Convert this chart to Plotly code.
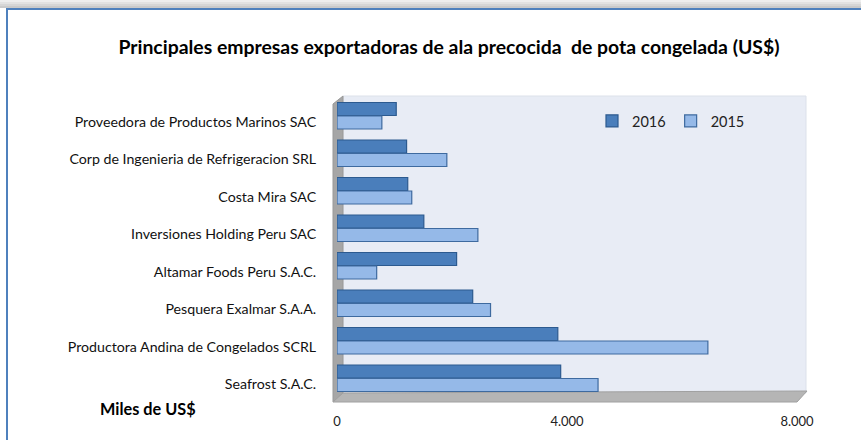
import plotly.graph_objects as go

# ---- data (thousands of US$) ----
empresas = [
    "Proveedora de Productos Marinos SAC",
    "Corp de Ingenieria de Refrigeracion SRL",
    "Costa Mira SAC",
    "Inversiones Holding Peru SAC",
    "Altamar Foods Peru S.A.C.",
    "Pesquera Exalmar S.A.A.",
    "Productora Andina de Congelados SCRL",
    "Seafrost S.A.C.",
]
valores_2016 = [1030, 1210, 1230, 1510, 2080, 2360, 3840, 3890]
valores_2015 = [780, 1910, 1300, 2450, 690, 2670, 6450, 4540]
x_ticks = [0, 4000, 8000]

W, H = 861, 440
L, R, T, B = 337, 797, 97, 397


def px(x):
    return (x - L) / (R - L)


def py(y):
    return 1 - (y - T) / (B - T)


FONT = "Lato, 'Open Sans', sans-serif"

fig = go.Figure()
fig.add_trace(go.Bar(
    name="2016", y=empresas, x=valores_2016, orientation="h",
    marker=dict(color="#4A7EBB", line=dict(color="#2C5A8F", width=1.2)),
))
fig.add_trace(go.Bar(
    name="2015", y=empresas, x=valores_2015, orientation="h",
    marker=dict(color="#95B9E8", line=dict(color="#3E6A9F", width=1.2)),
))

shapes = []
# top shadow
for i, c in enumerate(["#EEEEEE", "#E2E2E2", "#D6D6D6", "#CACACA"]):
    shapes.append(dict(type="rect", xref="paper", yref="paper",
                       x0=px(-5), x1=px(870), y0=py(2 * i), y1=py(2 * i + 2),
                       fillcolor=c, line=dict(width=0), layer="below"))
# outer frame
shapes.append(dict(type="rect", xref="paper", yref="paper",
                   x0=px(7), x1=px(875), y0=py(9), y1=py(460),
                   fillcolor="rgba(0,0,0,0)", line=dict(color="#4F81BD", width=2), layer="below"))
# back wall
shapes.append(dict(type="rect", xref="paper", yref="paper",
                   x0=px(343), x1=px(806), y0=py(96), y1=py(393),
                   fillcolor="#E8ECF5", line=dict(color="#DCE1EA", width=1), layer="below"))
# left wall
shapes.append(dict(type="path", xref="paper", yref="paper",
                   path=f"M {px(333)},{py(104)} L {px(343)},{py(96)} L {px(343)},{py(393)} L {px(333)},{py(402)} Z",
                   fillcolor="#A6A6A6", line=dict(color="#999999", width=1), layer="below"))
# floor
shapes.append(dict(type="path", xref="paper", yref="paper",
                   path=f"M {px(333)},{py(402)} L {px(343)},{py(393)} L {px(807)},{py(391)} L {px(797)},{py(402)} Z",
                   fillcolor="#B5B5B5", line=dict(color="#A0A0A0", width=1), layer="below"))

fig.update_layout(
    width=W, height=H,
    margin=dict(l=L, r=W - R, t=T, b=H - B, autoexpand=False),
    paper_bgcolor="white", plot_bgcolor="rgba(0,0,0,0)",
    separators=",.",
    barmode="group", bargap=0.28, bargroupgap=0.04,
    font=dict(family=FONT, color="#000000", size=13),
    title=dict(text="<b>Principales empresas exportadoras de ala precocida\u00a0 de pota congelada (US$)</b>",
               xref="container", yref="container",
               x=449 / W, xanchor="center", y=1 - 47 / H, yanchor="middle",
               font=dict(family=FONT, size=19.4, color="#000000")),
    legend=dict(orientation="h", x=px(592), xanchor="left", y=py(121), yanchor="middle",
                bgcolor="rgba(0,0,0,0)", font=dict(family=FONT, size=14.5, color="#222222"),
                traceorder="normal", itemwidth=30),
    shapes=shapes,
    annotations=[dict(text="<b>Miles de US$</b>", xref="paper", yref="paper",
                      x=px(148), y=py(408), xanchor="center", yanchor="middle",
                      showarrow=False, font=dict(family=FONT, size=16.3, color="#000000"))],
)
fig.update_xaxes(range=[0, 8000], tickvals=x_ticks, tickformat=",d", automargin=False,
                 showgrid=False, zeroline=False, showline=False,
                 ticks="outside", ticklen=12, tickcolor="rgba(0,0,0,0)",
                 tickfont=dict(size=13, color="#222222"))
fig.update_yaxes(autorange="reversed", automargin=False, showgrid=False, zeroline=False, showline=False,
                 ticks="outside", ticklen=17, tickcolor="rgba(0,0,0,0)",
                 ticklabelshift=-6, tickfont=dict(size=14.2, color="#111111"))

fig.write_html("out.html", config={"displayModeBar": False},
               post_script="document.body.style.margin='0';")
